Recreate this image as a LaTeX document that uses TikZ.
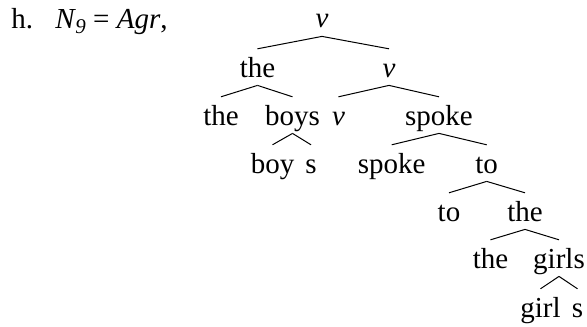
\documentclass[tikz,border=0pt]{standalone}
\usepackage{fontspec}
\setmainfont{Liberation Serif}
\newcommand\treeedge[2]{\draw[edge] ([yshift=-4.2pt]#1.base) -- ([yshift=14.1pt]#2.base);}
\begin{document}
\begin{tikzpicture}[x=0.5pt,y=-0.5pt,
  w/.style={inner sep=0pt, anchor=base, font=\fontsize{14.5}{17}\selectfont},
  edge/.style={line width=0.5pt}]
\useasboundingbox (0,0) rectangle (587,326);
\node[w, anchor=base west] (lbl) at (11,29) {h.};
\node[w, anchor=base west] (eq) at (55,29) {\textit{N}\kern-0.3pt\raisebox{-0.35ex}{\fontsize{10.5}{12}\selectfont\itshape 9} = \textit{Agr},};
\node[w] (r) at (322,28) {\textit{v}};
\node[w] (a) at (257.5,77) {the};
\node[w] (b) at (389,77) {\textit{v}};
\node[w] (c) at (221,125) {the};
\node[w] (d) at (292.5,125) {boys};
\node[w] (e) at (338.5,125) {\textit{v}};
\node[w] (f) at (439,125) {spoke};
\node[w] (g) at (272.5,173) {boy};
\node[w] (h) at (311,173) {s};
\node[w] (i) at (391.7,173) {spoke};
\node[w] (j) at (486.7,173) {to};
\node[w] (k) at (449,221) {to};
\node[w] (l) at (525,221) {the};
\node[w] (m) at (490.5,268) {the};
\node[w] (n) at (559,268) {girls};
\node[w] (o) at (540.5,317) {girl};
\node[w] (p) at (577.5,317) {s};
\treeedge{r}{a}
\treeedge{r}{b}
\treeedge{a}{c}
\treeedge{a}{d}
\treeedge{b}{e}
\treeedge{b}{f}
\treeedge{d}{g}
\treeedge{d}{h}
\treeedge{f}{i}
\treeedge{f}{j}
\treeedge{j}{k}
\treeedge{j}{l}
\treeedge{l}{m}
\treeedge{l}{n}
\treeedge{n}{o}
\treeedge{n}{p}
\end{tikzpicture}
\end{document}
